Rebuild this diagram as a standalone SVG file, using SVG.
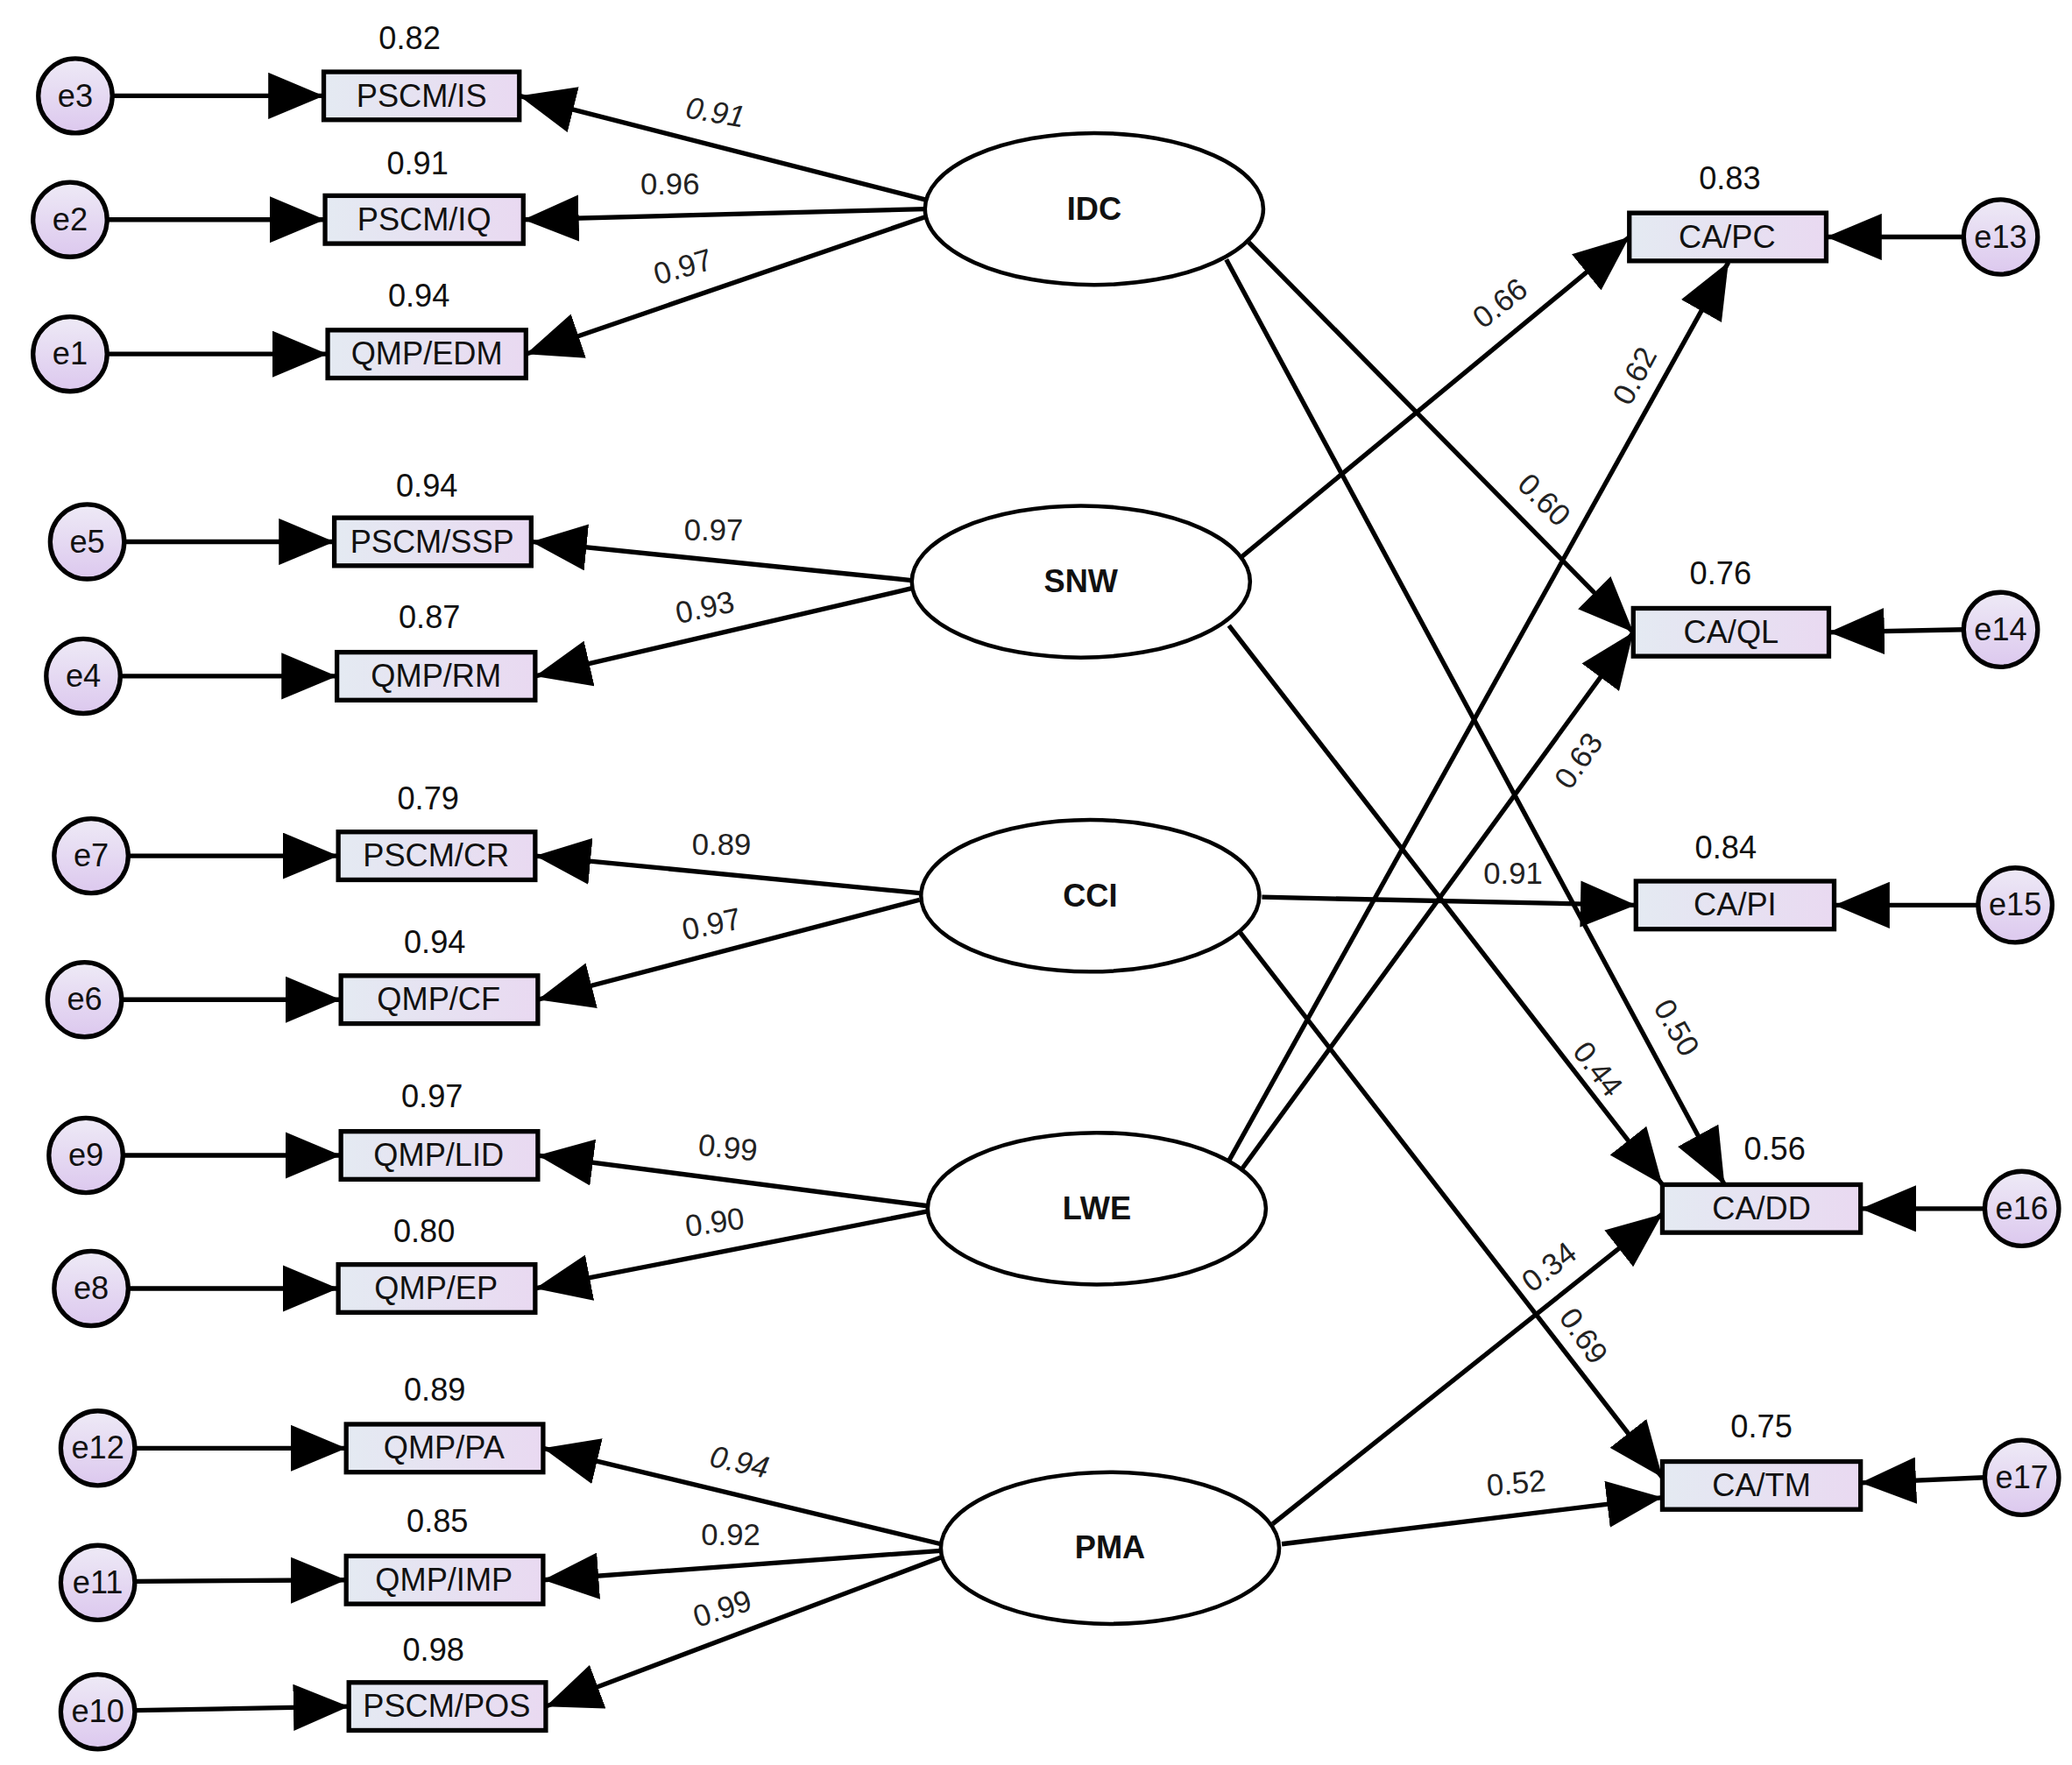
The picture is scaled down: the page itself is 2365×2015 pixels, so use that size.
<svg xmlns="http://www.w3.org/2000/svg" width="2365" height="2015" viewBox="0 0 2365 2015">
<defs>
<linearGradient id="bg" x1="0" y1="0" x2="1" y2="0"><stop offset="0" stop-color="#e4eaf2"/><stop offset="1" stop-color="#e9d9f1"/></linearGradient>
<linearGradient id="cg" x1="0" y1="0" x2="0" y2="1"><stop offset="0" stop-color="#eeeaf6"/><stop offset="1" stop-color="#dcc8ee"/></linearGradient>
<marker id="ah" viewBox="0 0 12 10" refX="12" refY="5" markerWidth="12" markerHeight="10" markerUnits="strokeWidth" orient="auto"><path d="M0,0 L12,5 L0,10 Z" fill="#000"/></marker>
<style>
.b{fill:url(#bg);stroke:#000;stroke-width:3.5}
.c{fill:url(#cg);stroke:#000;stroke-width:3.5}
.el{fill:#fff;stroke:#000;stroke-width:3}
.t{font-family:"Liberation Sans",Arial,sans-serif;font-size:24px;text-anchor:middle;fill:#111}
.bt{font-family:"Liberation Sans",Arial,sans-serif;font-size:24px;font-weight:bold;text-anchor:middle;fill:#111}
.l{font-family:"Liberation Sans",Arial,sans-serif;font-size:23px;text-anchor:middle;fill:#222}
#conn line{stroke:#000;stroke-width:3.5;marker-end:url(#ah)}
</style>
</defs>
<rect width="2365" height="2015" fill="#fff"/>
<g transform="scale(1.5083,1.5196)">
<g id="conn">
<line x1="86" y1="72" x2="245" y2="72"/>
<line x1="82" y1="165" x2="246" y2="165"/>
<line x1="82" y1="266" x2="248" y2="266"/>
<line x1="95" y1="407" x2="253" y2="407"/>
<line x1="92" y1="508" x2="255" y2="508"/>
<line x1="98" y1="643" x2="256" y2="643"/>
<line x1="93" y1="751" x2="258" y2="751"/>
<line x1="94" y1="868" x2="258" y2="868"/>
<line x1="98" y1="968" x2="256" y2="968"/>
<line x1="103" y1="1088" x2="262" y2="1088"/>
<line x1="103" y1="1188" x2="262" y2="1187"/>
<line x1="103" y1="1285" x2="264" y2="1282"/>
<line x1="1486" y1="178" x2="1382" y2="178"/>
<line x1="1486" y1="473" x2="1384" y2="475"/>
<line x1="1497" y1="680" x2="1388" y2="680"/>
<line x1="1502" y1="908" x2="1408" y2="908"/>
<line x1="1502" y1="1110" x2="1408" y2="1114"/>
<line x1="700" y1="150" x2="393" y2="72"/>
<line x1="700" y1="157" x2="396" y2="165"/>
<line x1="700" y1="163" x2="398" y2="266"/>
<line x1="690" y1="436" x2="402" y2="407"/>
<line x1="690" y1="442" x2="405" y2="508"/>
<line x1="696" y1="671" x2="405" y2="643"/>
<line x1="696" y1="676" x2="407" y2="751"/>
<line x1="702" y1="906" x2="407" y2="868"/>
<line x1="702" y1="910" x2="405" y2="968"/>
<line x1="712" y1="1160" x2="411" y2="1088"/>
<line x1="712" y1="1165" x2="411" y2="1187"/>
<line x1="712" y1="1170" x2="413" y2="1282"/>
<line x1="940" y1="418" x2="1233" y2="178"/>
<line x1="930" y1="872" x2="1308" y2="197"/>
<line x1="945" y1="182" x2="1236" y2="475"/>
<line x1="940" y1="878" x2="1236" y2="475"/>
<line x1="955" y1="674" x2="1238" y2="680"/>
<line x1="928" y1="195" x2="1305" y2="890"/>
<line x1="930" y1="470" x2="1258" y2="890"/>
<line x1="963" y1="1145" x2="1258" y2="912"/>
<line x1="938" y1="700" x2="1258" y2="1110"/>
<line x1="970" y1="1160" x2="1258" y2="1125"/>
</g>
<g id="coef">
<text class="l" font-style="italic" transform="translate(540,92) rotate(10)">0.91</text>
<text class="l" x="507" y="146">0.96</text>
<text class="l" transform="translate(519,208) rotate(-16)">0.97</text>
<text class="l" x="540" y="406">0.97</text>
<text class="l" transform="translate(535,464) rotate(-12)">0.93</text>
<text class="l" x="546" y="642">0.89</text>
<text class="l" transform="translate(540,702) rotate(-12)">0.97</text>
<text class="l" transform="translate(550,870) rotate(6)">0.99</text>
<text class="l" transform="translate(542,926) rotate(-8)">0.90</text>
<text class="l" font-style="italic" transform="translate(558,1106) rotate(12)">0.94</text>
<text class="l" x="553" y="1161">0.92</text>
<text class="l" transform="translate(549,1216) rotate(-18)">0.99</text>
<text class="l" transform="translate(1140,234) rotate(-38)">0.66</text>
<text class="l" transform="translate(1244,286) rotate(-62)">0.62</text>
<text class="l" transform="translate(1163,381) rotate(45)">0.60</text>
<text class="l" transform="translate(1201,576) rotate(-55)">0.63</text>
<text class="l" x="1145" y="664">0.91</text>
<text class="l" transform="translate(1262,776) rotate(60)">0.50</text>
<text class="l" transform="translate(1203,808) rotate(52)">0.44</text>
<text class="l" transform="translate(1177,958) rotate(-38)">0.34</text>
<text class="l" transform="translate(1192,1008) rotate(55)">0.69</text>
<text class="l" transform="translate(1148,1122) rotate(-5)">0.52</text>
</g>
<g id="IDC"><ellipse class="el" cx="828" cy="157" rx="128" ry="57"/><text class="bt" x="828" y="165">IDC</text></g>
<g id="SNW"><ellipse class="el" cx="818" cy="437" rx="128" ry="57"/><text class="bt" x="818" y="445">SNW</text></g>
<g id="CCI"><ellipse class="el" cx="825" cy="673" rx="128" ry="57"/><text class="bt" x="825" y="681">CCI</text></g>
<g id="LWE"><ellipse class="el" cx="830" cy="908" rx="128" ry="57"/><text class="bt" x="830" y="916">LWE</text></g>
<g id="PMA"><ellipse class="el" cx="840" cy="1163" rx="128" ry="57"/><text class="bt" x="840" y="1171">PMA</text></g>
<g id="b_IS"><rect class="b" x="245" y="54" width="148" height="36"/><text class="t" x="319" y="80">PSCM/IS</text><text class="t" x="310" y="37">0.82</text></g>
<g id="b_IQ"><rect class="b" x="246" y="147" width="150" height="36"/><text class="t" x="321" y="173">PSCM/IQ</text><text class="t" x="316" y="131">0.91</text></g>
<g id="b_EDM"><rect class="b" x="248" y="248" width="150" height="36"/><text class="t" x="323" y="274">QMP/EDM</text><text class="t" x="317" y="230">0.94</text></g>
<g id="b_SSP"><rect class="b" x="253" y="389" width="149" height="36"/><text class="t" x="327" y="415">PSCM/SSP</text><text class="t" x="323" y="373">0.94</text></g>
<g id="b_RM"><rect class="b" x="255" y="490" width="150" height="36"/><text class="t" x="330" y="516">QMP/RM</text><text class="t" x="325" y="472">0.87</text></g>
<g id="b_CR"><rect class="b" x="256" y="625" width="149" height="36"/><text class="t" x="330" y="651">PSCM/CR</text><text class="t" x="324" y="608">0.79</text></g>
<g id="b_CF"><rect class="b" x="258" y="733" width="149" height="36"/><text class="t" x="332" y="759">QMP/CF</text><text class="t" x="329" y="716">0.94</text></g>
<g id="b_LID"><rect class="b" x="258" y="850" width="149" height="36"/><text class="t" x="332" y="876">QMP/LID</text><text class="t" x="327" y="832">0.97</text></g>
<g id="b_EP"><rect class="b" x="256" y="950" width="149" height="36"/><text class="t" x="330" y="976">QMP/EP</text><text class="t" x="321" y="933">0.80</text></g>
<g id="b_PA"><rect class="b" x="262" y="1070" width="149" height="36"/><text class="t" x="336" y="1096">QMP/PA</text><text class="t" x="329" y="1052">0.89</text></g>
<g id="b_IMP"><rect class="b" x="262" y="1169" width="149" height="36"/><text class="t" x="336" y="1195">QMP/IMP</text><text class="t" x="331" y="1151">0.85</text></g>
<g id="b_POS"><rect class="b" x="264" y="1264" width="149" height="36"/><text class="t" x="338" y="1290">PSCM/POS</text><text class="t" x="328" y="1248">0.98</text></g>
<g id="b_PC"><rect class="b" x="1233" y="160" width="149" height="36"/><text class="t" x="1307" y="186">CA/PC</text><text class="t" x="1309" y="142">0.83</text></g>
<g id="b_QL"><rect class="b" x="1236" y="457" width="148" height="36"/><text class="t" x="1310" y="483">CA/QL</text><text class="t" x="1302" y="439">0.76</text></g>
<g id="b_PI"><rect class="b" x="1238" y="662" width="150" height="36"/><text class="t" x="1313" y="688">CA/PI</text><text class="t" x="1306" y="645">0.84</text></g>
<g id="b_DD"><rect class="b" x="1258" y="890" width="150" height="36"/><text class="t" x="1333" y="916">CA/DD</text><text class="t" x="1343" y="871">0.56</text></g>
<g id="b_TM"><rect class="b" x="1258" y="1098" width="150" height="36"/><text class="t" x="1333" y="1124">CA/TM</text><text class="t" x="1333" y="1080">0.75</text></g>
<g id="e3"><circle class="c" cx="57" cy="72" r="28"/><text class="t" x="57" y="80">e3</text></g>
<g id="e2"><circle class="c" cx="53" cy="165" r="28"/><text class="t" x="53" y="173">e2</text></g>
<g id="e1"><circle class="c" cx="53" cy="266" r="28"/><text class="t" x="53" y="274">e1</text></g>
<g id="e5"><circle class="c" cx="66" cy="407" r="28"/><text class="t" x="66" y="415">e5</text></g>
<g id="e4"><circle class="c" cx="63" cy="508" r="28"/><text class="t" x="63" y="516">e4</text></g>
<g id="e7"><circle class="c" cx="69" cy="643" r="28"/><text class="t" x="69" y="651">e7</text></g>
<g id="e6"><circle class="c" cx="64" cy="751" r="28"/><text class="t" x="64" y="759">e6</text></g>
<g id="e9"><circle class="c" cx="65" cy="868" r="28"/><text class="t" x="65" y="876">e9</text></g>
<g id="e8"><circle class="c" cx="69" cy="968" r="28"/><text class="t" x="69" y="976">e8</text></g>
<g id="e12"><circle class="c" cx="74" cy="1088" r="28"/><text class="t" x="74" y="1096">e12</text></g>
<g id="e11"><circle class="c" cx="74" cy="1189" r="28"/><text class="t" x="74" y="1197">e11</text></g>
<g id="e10"><circle class="c" cx="74" cy="1286" r="28"/><text class="t" x="74" y="1294">e10</text></g>
<g id="e13"><circle class="c" cx="1514" cy="178" r="28"/><text class="t" x="1514" y="186">e13</text></g>
<g id="e14"><circle class="c" cx="1514" cy="473" r="28"/><text class="t" x="1514" y="481">e14</text></g>
<g id="e15"><circle class="c" cx="1525" cy="680" r="28"/><text class="t" x="1525" y="688">e15</text></g>
<g id="e16"><circle class="c" cx="1530" cy="908" r="28"/><text class="t" x="1530" y="916">e16</text></g>
<g id="e17"><circle class="c" cx="1530" cy="1110" r="28"/><text class="t" x="1530" y="1118">e17</text></g>
</g>
</svg>
